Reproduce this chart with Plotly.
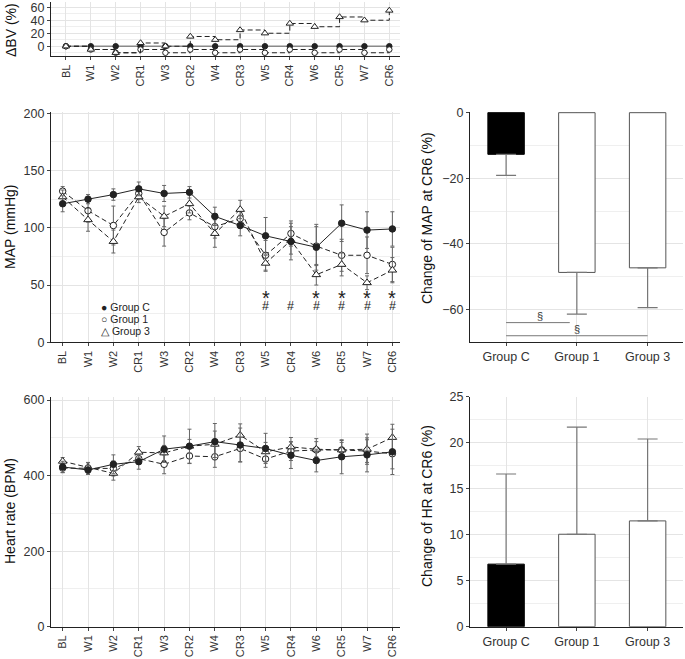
import plotly.graph_objects as go

# ---------------- data ----------------
timepoints = ["BL", "W1", "W2", "CR1", "W3", "CR2", "W4", "CR3", "W5", "CR4", "W6", "CR5", "W7", "CR6"]
groups = ["Group C", "Group 1", "Group 3"]

dbv_c = [0, 0, 0, 0, 0, 0, 0, 0, 0, 0, 0, 0, 0, 0]
dbv_1 = [0, -5, -10, -5, -10, -5, -10, -5, -10, -5, -10, -5, -10, -5]
dbv_3 = [0, -5, -10, 5, 0, 15, 10, 25, 20, 35, 30, 45, 40, 55]

map_c = [121, 125, 129, 134, 130, 131, 110, 102, 93, 88, 83, 104, 98, 99]
map_c_sd = [7, 4, 5, 6, 7, 5, 8, 9, 16, 16, 20, 16, 16, 15]
map_1 = [132, 115, 102, 130, 96, 113, 101, 108, 76, 95, 84, 76, 76, 68]
map_1_sd = [4, 10, 17, 5, 12, 6, 10, 8, 13, 11, 17, 14, 16, 15]
map_3 = [127, 107, 88, 127, 110, 121, 95, 116, 69, 89, 59, 68, 52, 63]
map_3_sd = [6, 10, 10, 5, 9, 8, 12, 8, 7, 12, 9, 10, 6, 11]

hr_c = [423, 415, 430, 437, 470, 478, 490, 481, 472, 454, 440, 450, 455, 463]
hr_c_sd = [15, 12, 25, 20, 35, 45, 48, 45, 40, 35, 30, 45, 45, 60]
hr_1 = [420, 420, 419, 445, 430, 452, 450, 472, 444, 465, 468, 468, 465, 458]
hr_1_sd = [12, 15, 20, 15, 25, 20, 28, 35, 22, 25, 30, 20, 30, 40]
hr_3 = [438, 422, 406, 462, 460, 478, 483, 507, 463, 476, 470, 468, 470, 501]
hr_3_sd = [10, 12, 18, 15, 20, 18, 35, 30, 25, 25, 20, 25, 40, 35]

map_change = [-12.7, -48.7, -47.3]
map_change_sd = [6.4, 12.7, 12.1]
hr_change = [6.8, 10.05, 11.5]
hr_change_sd = [9.8, 11.65, 8.9]

sig_star = ["W5", "W6", "CR5", "W7", "CR6"]
sig_hash = ["W5", "CR4", "W6", "CR5", "W7", "CR6"]

# ---------------- styling ----------------
W, H = 685, 659
FONT = "Liberation Sans, Arial, sans-serif"
INK = "#222222"
ERR = "#666666"
GRID = "#e4e4e4"
MINOR = "#efefef"


def px(x):
    return x / W


def py(y):
    return 1 - y / H


fig = go.Figure()

series_style = {
    "Group C": dict(symbol="circle", color=INK, fill=INK, dash="solid", size=6.5),
    "Group 1": dict(symbol="circle", color=INK, fill="white", dash="5px,3px", size=6.5),
    "Group 3": dict(symbol="triangle-up", color=INK, fill="white", dash="5px,3px", size=7.5),
}


def line_trace(name, y, sd, xa, ya, shape="linear", msize=None, lcolor=None, lwidth=1):
    st = series_style[name]
    tr = go.Scatter(
        x=timepoints, y=y, name=name, mode="lines+markers", showlegend=False,
        xaxis=xa, yaxis=ya, line_shape=shape,
        line=dict(color=lcolor or INK, width=lwidth, dash=st["dash"]),
        marker=dict(symbol=st["symbol"], size=msize or st["size"], color=st["fill"],
                    line=dict(color=st["color"], width=1)),
        cliponaxis=False,
    )
    if sd is not None:
        tr.error_y = dict(type="data", array=sd, visible=True, color=ERR, thickness=1, width=2)
    return tr


# Delta BV panel
fig.add_trace(line_trace("Group C", dbv_c, None, "x", "y", msize=5.5, lcolor="#8a8a8a", lwidth=1.5))
fig.add_trace(line_trace("Group 1", dbv_1, None, "x", "y", shape="hv", msize=5.5))
fig.add_trace(line_trace("Group 3", dbv_3, None, "x", "y", shape="hv", msize=6.5))

# MAP panel
fig.add_trace(line_trace("Group 1", map_1, map_1_sd, "x2", "y2"))
fig.add_trace(line_trace("Group 3", map_3, map_3_sd, "x2", "y2"))
fig.add_trace(line_trace("Group C", map_c, map_c_sd, "x2", "y2"))

# HR panel
fig.add_trace(line_trace("Group 1", hr_1, hr_1_sd, "x3", "y3"))
fig.add_trace(line_trace("Group 3", hr_3, hr_3_sd, "x3", "y3"))
fig.add_trace(line_trace("Group C", hr_c, hr_c_sd, "x3", "y3"))

bar_fill = ["black", "white", "white"]
bar_edge = ["black", "#555555", "#555555"]

fig.add_trace(go.Bar(
    x=groups, y=map_change, xaxis="x4", yaxis="y4", width=0.515, showlegend=False,
    marker=dict(color=bar_fill, line=dict(color=bar_edge, width=1)),
    error_y=dict(type="data", symmetric=False, array=[0, 0, 0], arrayminus=map_change_sd,
                 color="#777777", thickness=1.2, width=10),
))
fig.add_trace(go.Bar(
    x=groups, y=hr_change, xaxis="x5", yaxis="y5", width=0.515, showlegend=False,
    marker=dict(color=bar_fill, line=dict(color=bar_edge, width=1)),
    error_y=dict(type="data", symmetric=False, array=hr_change_sd, arrayminus=[0, 0, 0],
                 color="#777777", thickness=1.2, width=10),
))

# ---------------- axes ----------------
tickfont = dict(family=FONT, size=12.5, color="#333333")
rotfont = dict(family=FONT, size=11, color="#333333")


def xcat(domain, rng, anchor, angle=-90):
    return dict(domain=domain, range=rng, anchor=anchor, type="category", automargin=False,
                showline=True, linecolor=INK, linewidth=1.3, ticks="outside", ticklen=3,
                tickcolor="#444444", tickfont=rotfont if angle else tickfont, tickangle=angle,
                showgrid=True, gridcolor=GRID, gridwidth=1, zeroline=False, fixedrange=True)


def ylin(domain, rng, anchor, dtick, minor):
    return dict(domain=domain, range=rng, anchor=anchor, dtick=dtick, tick0=0, automargin=False,
                showline=True, linecolor=INK, linewidth=1.3, ticks="outside", ticklen=3,
                tickcolor="#444444", tickfont=tickfont,
                showgrid=True, gridcolor=GRID, gridwidth=1, zeroline=False,
                minor=dict(dtick=minor, tick0=0, showgrid=True, gridcolor=MINOR, gridwidth=1, ticks=""),
                fixedrange=True)


LX = [px(51), px(400)]
BXD = [px(470), px(683)]
YD1 = [py(56), py(1.7)]
YD2 = [py(342.3), py(111.7)]
YD3 = [py(626.7), py(396.7)]

fig.update_layout(
    template="none",
    xaxis=xcat(LX, [-0.6, 13.43], "y"),
    yaxis=ylin(YD1, [-15, 68.5], "x", 20, 10),
    xaxis2=xcat(LX, [-0.46, 13.3], "y2"),
    yaxis2=ylin(YD2, [0, 201.4], "x2", 50, 25),
    xaxis3=xcat(LX, [-0.46, 13.3], "y3"),
    yaxis3=ylin(YD3, [0, 609], "x3", 200, 100),
    xaxis4=xcat(BXD, [-0.51, 2.5], "y4", angle=0),
    yaxis4=ylin(YD2, [-70, 0.3], "x4", 20, 10),
    xaxis5=xcat(BXD, [-0.51, 2.5], "y5", angle=0),
    yaxis5=ylin(YD3, [0, 25], "x5", 5, 2.5),
)

# ---------------- annotations ----------------
ann = []
titles = [
    ("ΔBV (%)", 11, 30),
    ("MAP (mmHg)", 10, 227),
    ("Heart rate (BPM)", 10, 511),
    ("Change of MAP at CR6 (%)", 427, 218),
    ("Change of HR at CR6 (%)", 427, 506),
]
for text, x, y in titles:
    ann.append(dict(text=text, x=px(x), y=py(y), xref="paper", yref="paper", showarrow=False,
                    textangle=-90, xanchor="center", yanchor="middle",
                    font=dict(family=FONT, size=14, color="#111111")))

legend_items = [("● Group C", 307.3), ("○ Group 1", 319.3), ("△ Group 3", 330.5)]
for text, y in legend_items:
    ann.append(dict(text=text, x=px(98.5), y=py(y), xref="paper", yref="paper", showarrow=False,
                    xanchor="left", yanchor="middle",
                    font=dict(family=FONT, size=10.5, color="#222222")))

for tp in sig_star:
    ann.append(dict(text="*", x=tp, y=38.5, xref="x2", yref="y2", showarrow=False,
                    xanchor="center", yanchor="middle",
                    font=dict(family=FONT, size=20, color="#222222")))
for tp in sig_hash:
    ann.append(dict(text="#", x=tp, y=32.0, xref="x2", yref="y2", showarrow=False,
                    xanchor="center", yanchor="middle",
                    font=dict(family=FONT, size=12.5, color="#222222")))

ann.append(dict(text="§", x=0.48, y=-62.0, xref="x4", yref="y4", showarrow=False,
                font=dict(family=FONT, size=11, color="#333333")))
ann.append(dict(text="§", x=1.0, y=-66.0, xref="x4", yref="y4", showarrow=False,
                font=dict(family=FONT, size=11, color="#333333")))

shapes = [
    dict(type="line", xref="x4", yref="y4", x0=0, x1=0.9, y0=-64, y1=-64,
         line=dict(color="#777777", width=1)),
    dict(type="line", xref="x4", yref="y4", x0=0, x1=2, y0=-68, y1=-68,
         line=dict(color="#777777", width=1)),
]

fig.update_layout(
    width=W, height=H, autosize=False,
    margin=dict(l=0, r=0, t=0, b=0, pad=0),
    paper_bgcolor="white", plot_bgcolor="white",
    font=dict(family=FONT, color="#333333"),
    annotations=ann, shapes=shapes, showlegend=False,
    bargap=0.3,
)

fig.write_html("out.html", config={"displayModeBar": False},
               post_script="document.body.style.margin='0';document.body.style.overflow='hidden';")
